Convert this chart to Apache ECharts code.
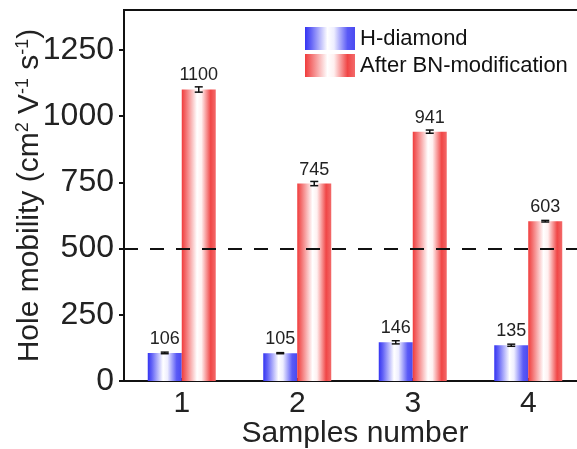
<!DOCTYPE html>
<html><head><meta charset="utf-8">
<script src="https://cdn.jsdelivr.net/npm/echarts@6/dist/echarts.min.js"></script>
<style>html,body{margin:0;padding:0;background:#fff}#c{width:577px;height:449px}</style>
</head><body><div id="c"></div>
<script>
const categories = ['1', '2', '3', '4'];
const hDiamond = [106, 105, 146, 135];
const hDiamondErr = [3, 2, 6, 4];
const afterBN = [1100, 745, 941, 603];
const afterBNErr = [10, 8, 6, 3];
const yTicks = [0, 250, 500, 750, 1000, 1250];
const refLine = 500;

const FONT = 'Liberation Sans, Arial, sans-serif';
const BAR_W = 34;

const blueGrad = new echarts.graphic.LinearGradient(0, 0, 1, 0, [
  {offset: 0, color: '#3434f2'}, {offset: 0.12, color: '#6262f6'},
  {offset: 0.45, color: '#ffffff'}, {offset: 0.58, color: '#eeeeff'},
  {offset: 0.85, color: '#5a5af6'}, {offset: 1, color: '#4a4af0'}]);
const redGrad = new echarts.graphic.LinearGradient(0, 0, 1, 0, [
  {offset: 0, color: '#f03c3c'}, {offset: 0.12, color: '#f36e6e'},
  {offset: 0.45, color: '#ffffff'}, {offset: 0.58, color: '#fff0f0'},
  {offset: 0.85, color: '#f04646'}, {offset: 1, color: '#f36a6a'}]);

function errSeries(vals, errs, dx) {
  return {
    type: 'custom', silent: true, z: 5,
    data: vals.map((v, i) => [i, v, errs[i]]),
    renderItem: function (params, api) {
      const i = api.value(0), v = api.value(1), e = api.value(2);
      const hi = api.coord([i, v + e]);
      const lo = api.coord([i, v - e]);
      const x = hi[0] + dx, cw = 4;
      const st = {stroke: '#111', lineWidth: 1.5};
      return {type: 'group', children: [
        {type: 'line', shape: {x1: x, y1: hi[1], x2: x, y2: lo[1]}, style: st},
        {type: 'line', shape: {x1: x - cw, y1: hi[1], x2: x + cw, y2: hi[1]}, style: st},
        {type: 'line', shape: {x1: x - cw, y1: lo[1], x2: x + cw, y2: lo[1]}, style: st}
      ]};
    }
  };
}

const chart = echarts.init(document.getElementById('c'), null, {renderer: 'canvas'});
chart.setOption({
  animation: false,
  textStyle: {fontFamily: FONT},
  grid: {left: 124, top: 10, right: -9, bottom: 68, outerBoundsMode: 'none', containLabel: false,
    show: true, borderColor: '#111', borderWidth: 2, backgroundColor: 'transparent'},
  legend: {
    orient: 'vertical', left: 300, top: 22, itemWidth: 50, itemHeight: 23, itemGap: 4,
    icon: 'rect', textStyle: {fontSize: 22, color: '#111', fontFamily: FONT},
    data: ['H-diamond', 'After BN-modification']
  },
  xAxis: {
    type: 'category', data: categories,
    axisLine: {lineStyle: {color: '#111', width: 2}},
    axisTick: {show: true, inside: true, length: 3, alignWithLabel: true, lineStyle: {color: '#111', width: 2}},
    axisLabel: {fontSize: 30, color: '#222', margin: 8, fontFamily: FONT},
    name: 'Samples number', nameLocation: 'middle', nameGap: 38, nameMoveOverlap: false,
    nameTextStyle: {fontSize: 30, color: '#222', fontFamily: FONT}
  },
  yAxis: {
    type: 'value', min: 0, max: 1400, interval: 250,
    splitLine: {show: false},
    axisLine: {show: true, lineStyle: {color: '#111', width: 2}},
    axisTick: {show: true, length: 5, customValues: yTicks, lineStyle: {color: '#111', width: 2}},
    axisLabel: {fontSize: 32, color: '#222', margin: 10, customValues: yTicks, fontFamily: FONT,
      formatter: v => String(v)},
    name: 'Hole mobility (cm{sup|2} V{sup|-1} s{sup|-1})', nameLocation: 'middle', nameGap: 78,
    nameMoveOverlap: false,
    nameTextStyle: {fontSize: 30, color: '#222', fontFamily: FONT, lineHeight: 32,
      rich: {sup: {fontSize: 18, verticalAlign: 'top', lineHeight: 32, color: '#222', fontFamily: FONT}}}
  },
  series: [
    {
      name: 'H-diamond', type: 'bar', data: hDiamond, barWidth: BAR_W, barGap: '0%',
      itemStyle: {color: blueGrad},
      label: {show: true, position: 'top', distance: 5, fontSize: 18, color: '#222', fontFamily: FONT}
    },
    {
      name: 'After BN-modification', type: 'bar', data: afterBN, barWidth: BAR_W, barGap: '0%',
      itemStyle: {color: redGrad},
      label: {show: true, position: 'top', distance: 5, fontSize: 18, color: '#222', fontFamily: FONT},
      markLine: {
        silent: true, symbol: ['none', 'none'], label: {show: false}, z: 10,
        lineStyle: {color: '#111', type: [14, 12], width: 2},
        data: [{yAxis: refLine}]
      }
    },
    errSeries(hDiamond, hDiamondErr, -BAR_W / 2),
    errSeries(afterBN, afterBNErr, BAR_W / 2)
  ]
});
</script></body></html>
